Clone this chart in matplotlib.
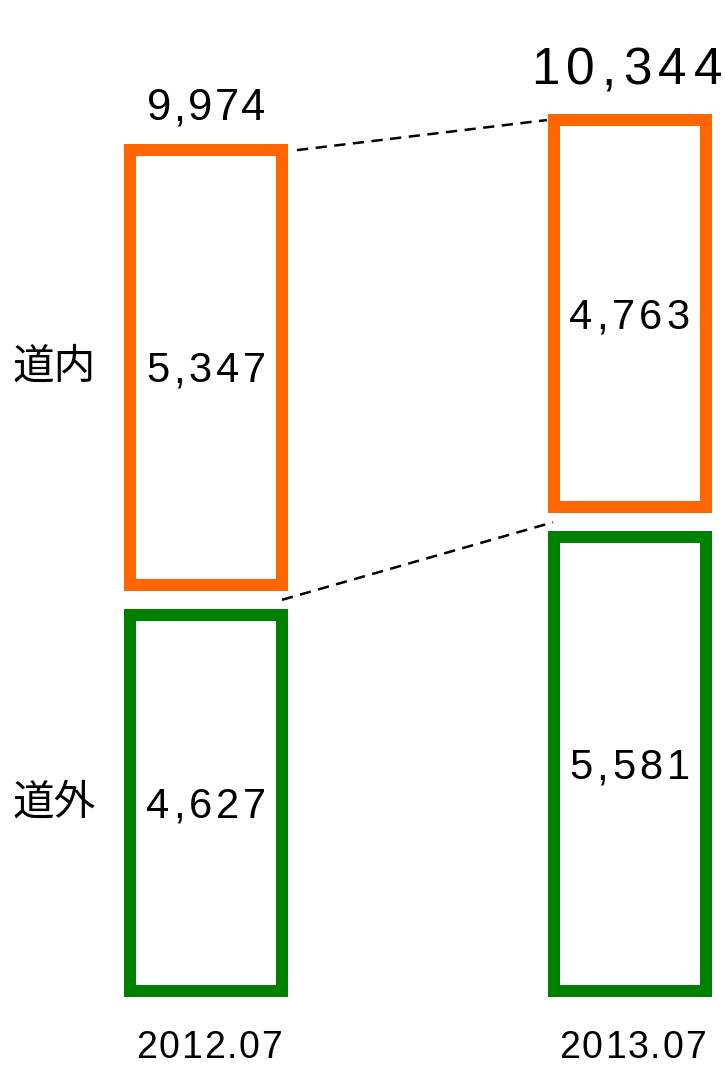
import numpy as np
import matplotlib
matplotlib.use('Agg')
import matplotlib.pyplot as plt
from matplotlib import font_manager
from matplotlib.ft2font import FT2Font

# data
periods = ['2012.07', '2013.07']
outside = [4627, 5581]   # 道外
inside = [5347, 4763]    # 道内
totals = [9974, 10344]
names = ['道内', '道外']

ORANGE = '#FF6600'
GREEN = '#008000'
W, H, DPI = 725, 1067, 100
PX = 0.0813            # pixels per unit
SLOT = 423.5           # pixels between bar centres
gap = 30 / PX          # white gap between the two boxes

fig = plt.figure(figsize=(W / DPI, H / DPI), dpi=DPI)
fig.patch.set_facecolor('white')
ax = fig.add_axes([0, 0, 1, 1])
ax.axis('off')
ax.set_xlim(-206 / SLOT, 1 + (W - 629.5) / SLOT)
ax.set_ylim(-(H - 991) / PX, 991 / PX)

x = np.arange(len(periods))
outside = np.array(outside)
inside = np.array(inside)
bar_w = 152 / SLOT
lw = 12 * 72 / DPI

ax.bar(x, outside, width=bar_w, facecolor='white', edgecolor=GREEN, linewidth=lw)
ax.bar(x, inside, bottom=outside + gap, width=bar_w, facecolor='white',
       edgecolor=ORANGE, linewidth=lw)

tops = outside + gap + inside
dash = dict(color='black', lw=1.8, linestyle=(0, (4.5, 3)))
ax.plot([x[0] + 91 / SLOT, x[1] - 82.5 / SLOT], tops, **dash)
ax.plot([x[0] + 76 / SLOT, x[1] - 76.5 / SLOT], outside + gap / 2, **dash)

FONT = font_manager.findfont(font_manager.FontProperties(family='Liberation Sans'))


def spaced_text(xd, yd, s, size, track, dy=0.0, dx=0.0):
    # lay out characters one by one so the numbers get some extra tracking
    f = FT2Font(FONT)
    f.set_size(size, DPI)
    adv = [f.load_char(ord(c)).linearHoriAdvance / 65536 for c in s]
    pen = dx - (sum(adv) + track * (len(s) - 1)) / 2
    for c, a in zip(s, adv):
        ax.annotate(c, (xd, yd), xytext=((pen + a / 2) * 72 / DPI, dy * 72 / DPI),
                    textcoords='offset points', ha='center', va='baseline',
                    fontsize=size, family='Liberation Sans', color='black')
        pen += a + track


def mid_dy(size):
    return -0.358 * size * DPI / 72


for i in x:
    spaced_text(i, outside[i] / 2, f'{outside[i]:,}', 30, 4, mid_dy(30))
    spaced_text(i, outside[i] + gap + inside[i] / 2, f'{inside[i]:,}', 30, 4, mid_dy(30))

spaced_text(x[0], tops[0], f'{totals[0]:,}', 31.5, 2.2, 30)
spaced_text(x[1], tops[1], f'{totals[1]:,}', 37, 6.8, 36, dx=-3)

# series names beside the first bar
ax.text(-152 / SLOT, outside[0] + gap + inside[0] / 2, names[0], fontsize=30,
        family=['Noto Sans CJK JP', 'DejaVu Sans'], ha='center', va='center')
ax.text(-152 / SLOT, outside[0] / 2, names[1], fontsize=30,
        family=['Noto Sans CJK JP', 'DejaVu Sans'], ha='center', va='center')

# period labels under the bars
y_bottom = ax.get_ylim()[0]
for i, p in zip(x, periods):
    spaced_text(i, y_bottom, p, 27, 1.8, dy=9, dx=3)

fig.savefig('out.png', dpi=DPI, facecolor='white')
